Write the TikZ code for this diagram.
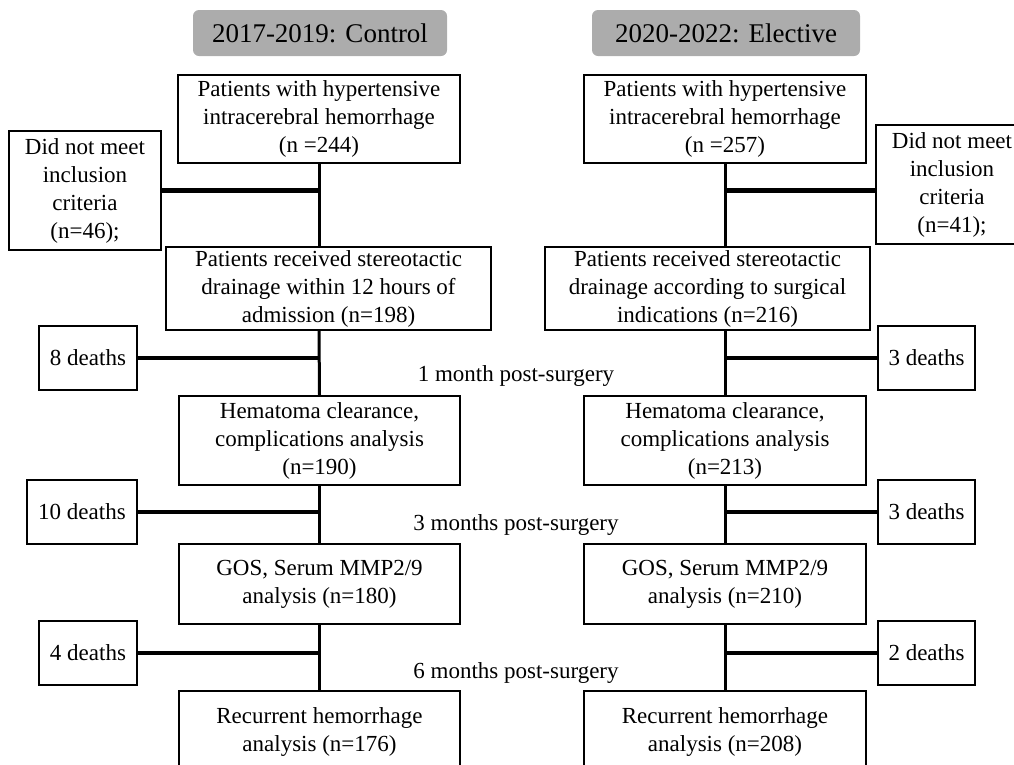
\documentclass[tikz,border=0pt]{standalone}
\usepackage{fontspec}
\setmainfont{Liberation Serif}
\begin{document}
\begin{tikzpicture}[x=1pt,y=-1pt,
		box/.style={draw,line width=1.5pt,align=center,inner sep=0pt,font=\fontsize{23}{28}\selectfont},
		head/.style={fill=gray!65,rounded corners=6pt,align=center,inner sep=0pt,font=\fontsize{27}{32}\selectfont},
		vline/.style={line width=3pt},
		hline/.style={line width=4.5pt},
		note/.style={font=\fontsize{23}{28}\selectfont}]
		\useasboundingbox (0,0) rectangle (1014,764);
		\node[head,minimum width=254pt,minimum height=46pt] (HL) at (320,33) {2017-2019: Control};
		\node[head,minimum width=268pt,minimum height=46pt] (HR) at (726,33) {2020-2022: Elective};
		\node[box,minimum width=282pt,minimum height=88pt] (L1) at (319,119) {Patients with hypertensive\\intracerebral hemorrhage\\(n =244)};
		\node[box,minimum width=282pt,minimum height=88pt] (R1) at (725,119) {Patients with hypertensive\\intracerebral hemorrhage\\(n =257)};
		\node[box,minimum width=152pt,minimum height=119pt] (LX) at (85,190.5) {Did not meet\\inclusion\\criteria\\(n=46);};
		\node[box,minimum width=152pt,minimum height=119pt] (RX) at (952,184.5) {Did not meet\\inclusion\\criteria\\(n=41);};
		\node[box,minimum width=325pt,minimum height=83pt] (L2) at (328.5,288.5) {Patients received stereotactic\\drainage within 12 hours of\\admission (n=198)};
		\node[box,minimum width=325pt,minimum height=83pt] (R2) at (707.5,288.5) {Patients received stereotactic\\drainage according to surgical\\indications (n=216)};
		\node[box,minimum width=98pt,minimum height=64pt] (LD1) at (88,358) {8 deaths};
		\node[box,minimum width=97pt,minimum height=64pt] (RD1) at (926.5,358) {3 deaths};
		\node[box,minimum width=281pt,minimum height=89pt] (L3) at (319.5,440.5) {Hematoma clearance,\\complications analysis\\(n=190)};
		\node[box,minimum width=282pt,minimum height=89pt] (R3) at (725,440.5) {Hematoma clearance,\\complications analysis\\(n=213)};
		\node[box,minimum width=110pt,minimum height=64pt] (LD2) at (82,512) {10 deaths};
		\node[box,minimum width=97pt,minimum height=64pt] (RD2) at (926.5,512) {3 deaths};
		\node[box,minimum width=281pt,minimum height=80pt] (L4) at (319.5,584) {GOS, Serum MMP2/9\\analysis (n=180)};
		\node[box,minimum width=282pt,minimum height=80pt] (R4) at (725,584) {GOS, Serum MMP2/9\\analysis (n=210)};
		\node[box,minimum width=98pt,minimum height=64pt] (LD3) at (88,653) {4 deaths};
		\node[box,minimum width=97pt,minimum height=64pt] (RD3) at (926.5,653) {2 deaths};
		\node[box,minimum width=281pt,minimum height=82pt] (L5) at (319.5,732) {Recurrent hemorrhage\\analysis (n=176)};
		\node[box,minimum width=282pt,minimum height=82pt] (R5) at (725,732) {Recurrent hemorrhage\\analysis (n=208)};
		\node[note] (T1) at (516,376) {1 month post-surgery};
		\node[note] (T2) at (516,525) {3 months post-surgery};
		\node[note] (T3) at (516,673) {6 months post-surgery};
		\draw[vline] (L1.south) -- (L1.south |- L2.north);
		\draw[vline] (R1.south) -- (R1.south |- R2.north);
		\draw[vline] (L1.south |- L2.south) -- (L3.north);
		\draw[vline] (R1.south |- R2.south) -- (R3.north);
		\draw[vline] (L3.south) -- (L4.north);
		\draw[vline] (R3.south) -- (R4.north);
		\draw[vline] (L4.south) -- (L5.north);
		\draw[vline] (R4.south) -- (R5.north);
		\draw[hline] (LX.east) -- (LX.east -| L1.south);
		\draw[hline] (RX.west |- LX.east) -- (R1.south |- LX.east);
		\draw[hline] (LD1.east) -- (LD1.east -| L3.north);
		\draw[hline] (RD1.west) -- (RD1.west -| R3.north);
		\draw[hline] (LD2.east) -- (LD2.east -| L4.north);
		\draw[hline] (RD2.west) -- (RD2.west -| R4.north);
		\draw[hline] (LD3.east) -- (LD3.east -| L5.north);
		\draw[hline] (RD3.west) -- (RD3.west -| R5.north);
\end{tikzpicture}
\end{document}
